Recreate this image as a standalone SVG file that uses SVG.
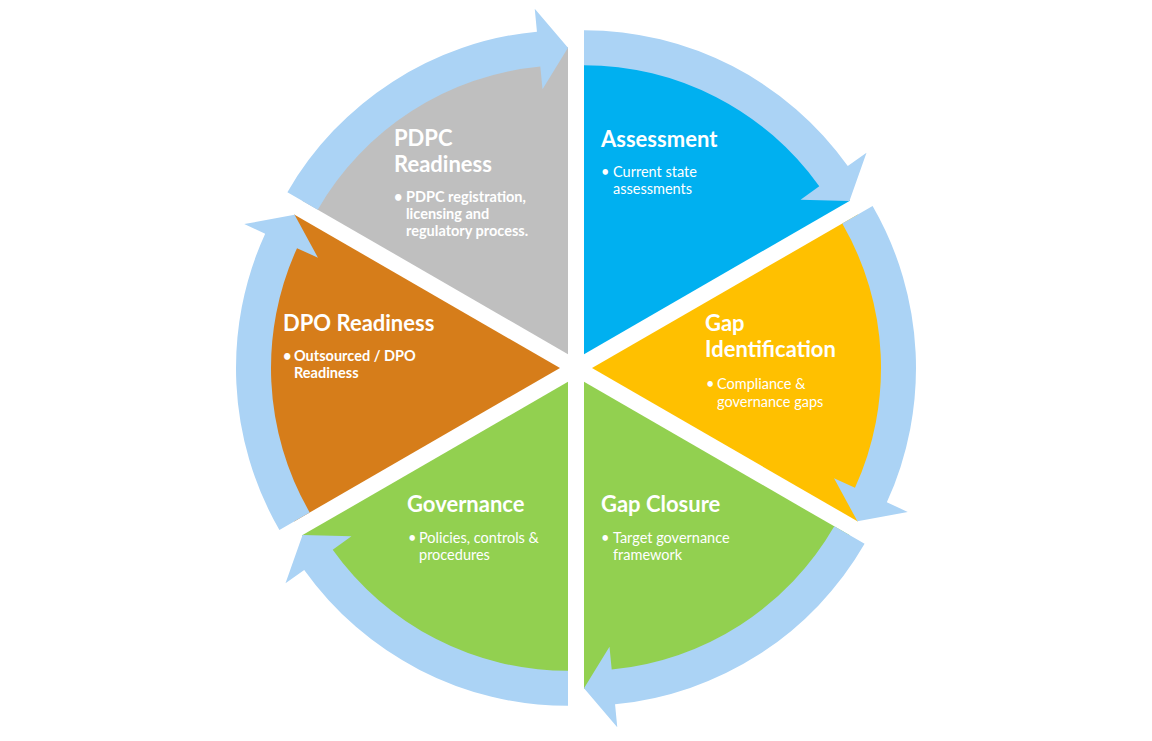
<svg xmlns="http://www.w3.org/2000/svg" xmlns:xlink="http://www.w3.org/1999/xlink" width="1152" height="741" viewBox="0 0 1152 741">
<defs>
<style>
.title{font-family:Lato,"Liberation Sans",sans-serif;font-weight:bold;font-size:22px;fill:#fff}
.body{font-family:Lato,"Liberation Sans",sans-serif;font-size:14.5px;fill:#fff}
.bb{font-weight:bold}
.arrow{fill:#ABD3F5}
</style>
<path id="pie" d="M0,0 L265.87,-153.5 A307,307 0 0 1 265.87,153.5 Z"/>
<path id="arc" d="M280.59,-162 A324,324 0 0 1 294.83,134.36 L315.76,143.9 L265.44,153.25 L242.05,110.31 L262.98,119.85 A289,289 0 0 0 250.28,-144.5 Z"/>
</defs>
<rect width="1152" height="741" fill="#fff"/>
<g id="assessment">
<use xlink:href="#pie" fill="#00B0F0" transform="translate(584,354.144) rotate(-60)"/>
<text class="title" x="601" y="147">Assessment</text>
<text class="body" x="601" y="177">•</text>
<text class="body" x="613" y="177">Current state</text>
<text class="body" x="613" y="194">assessments</text>
</g>
<g id="gap-identification">
<use xlink:href="#pie" fill="#FFC000" transform="translate(592,368)"/>
<text class="title" x="705" y="331">Gap</text>
<text class="title" x="705" y="357">Identification</text>
<text class="body" x="706" y="389">•</text>
<text class="body" x="717" y="389">Compliance &amp;</text>
<text class="body" x="717" y="406.5">governance gaps</text>
</g>
<g id="gap-closure">
<use xlink:href="#pie" fill="#92D050" transform="translate(584,381.856) rotate(60)"/>
<text class="title" x="601" y="512">Gap Closure</text>
<text class="body" x="601" y="543">•</text>
<text class="body" x="613" y="543">Target governance</text>
<text class="body" x="613" y="559.5">framework</text>
</g>
<g id="governance">
<use xlink:href="#pie" fill="#92D050" transform="translate(568,381.856) rotate(120)"/>
<text class="title" x="407" y="512">Governance</text>
<text class="body" x="408" y="543">•</text>
<text class="body" x="419" y="543">Policies, controls &amp;</text>
<text class="body" x="419" y="559.5">procedures</text>
</g>
<g id="dpo-readiness">
<use xlink:href="#pie" fill="#D67D1A" transform="translate(560,368) rotate(180)"/>
<text class="title" x="283" y="331">DPO Readiness</text>
<text class="body bb" x="283" y="361">•</text>
<text class="body bb" x="294" y="361">Outsourced / DPO</text>
<text class="body bb" x="294" y="378">Readiness</text>
</g>
<g id="pdpc-readiness">
<use xlink:href="#pie" fill="#BFBFBF" transform="translate(568,354.144) rotate(240)"/>
<text class="title" x="394" y="146">PDPC</text>
<text class="title" x="394" y="172">Readiness</text>
<text class="body bb" x="394" y="202">•</text>
<text class="body bb" x="406" y="202">PDPC registration,</text>
<text class="body bb" x="406" y="219">licensing and</text>
<text class="body bb" x="406" y="236">regulatory process.</text>
</g>
<g id="connectors">
<use xlink:href="#arc" class="arrow" transform="translate(584,354.144) rotate(-60)"/>
<use xlink:href="#arc" class="arrow" transform="translate(592,368)"/>
<use xlink:href="#arc" class="arrow" transform="translate(584,381.856) rotate(60)"/>
<use xlink:href="#arc" class="arrow" transform="translate(568,381.856) rotate(120)"/>
<use xlink:href="#arc" class="arrow" transform="translate(560,368) rotate(180)"/>
<use xlink:href="#arc" class="arrow" transform="translate(568,354.144) rotate(240)"/>
</g>
</svg>
